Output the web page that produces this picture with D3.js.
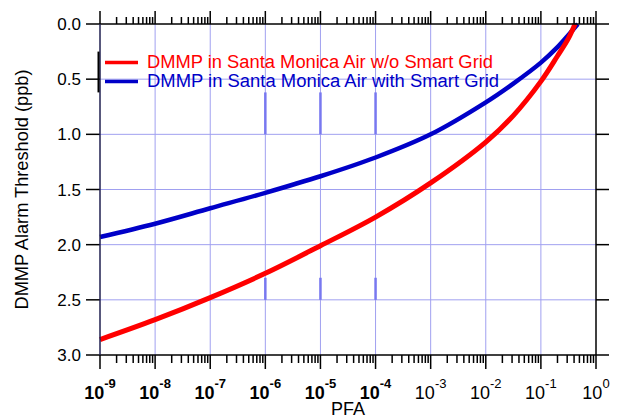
<!DOCTYPE html>
<html>
<head>
<meta charset="utf-8">
<script src="https://cdn.jsdelivr.net/npm/d3@7"></script>
<style>
html,body{margin:0;padding:0;background:#fff;}
svg{display:block;font-family:"Liberation Sans",Arial,sans-serif;}
</style>
</head>
<body>
<svg id="chart" width="618" height="418"></svg>
<script>
// ---- data ----
const seriesNames = ["DMMP in Santa Monica Air w/o Smart Grid", "DMMP in Santa Monica Air with Smart Grid"];
const seriesColors = ["#ff0000", "#0000c8"];
const pfaRed  = [1e-9, 1e-8, 1e-7, 1e-6, 1e-5, 1e-4, 1e-3, 1e-2, 0.0316, 0.1, 0.2, 0.316, 0.417];
const ppbRed  = [2.86, 2.68, 2.48, 2.26, 2.01, 1.75, 1.44, 1.07, 0.83, 0.52, 0.29, 0.13, 0.0];
const pfaBlue = [1e-9, 1e-8, 1e-7, 1e-6, 1e-5, 1e-4, 1e-3, 1e-2, 0.0316, 0.1, 0.2, 0.316, 0.468];
const ppbBlue = [1.93, 1.81, 1.67, 1.53, 1.38, 1.21, 1.00, 0.71, 0.54, 0.35, 0.21, 0.10, 0.0];
const yTicks = [0.0, 0.5, 1.0, 1.5, 2.0, 2.5, 3.0];
const xExponents = [-9, -8, -7, -6, -5, -4, -3, -2, -1, 0];
const xBoldExponents = [-9, -8, -7, -6, -5, -4];
const markDecades = [1e-6, 1e-5, 1e-4];

// ---- layout ----
const L = 100, R = 596, T = 24, B = 355;
const svg = d3.select("#chart");
const x = d3.scaleLog().domain([1e-9, 1]).range([L, R]);
const y = d3.scaleLinear().domain([0, 3]).range([T, B]);

const grid = "#a0a0f0";
// gridlines
svg.append("g").selectAll("line").data(xExponents.slice(1, -1)).join("line")
  .attr("x1", d => x(Math.pow(10, d))).attr("x2", d => x(Math.pow(10, d)))
  .attr("y1", T).attr("y2", B).attr("stroke", grid).attr("stroke-width", 1);
svg.append("g").selectAll("line").data(yTicks.slice(1, -1)).join("line")
  .attr("x1", L).attr("x2", R)
  .attr("y1", d => y(d)).attr("y2", d => y(d)).attr("stroke", grid).attr("stroke-width", 1);

// thicker gridline segments seen in the original
const segs = [];
markDecades.forEach(p => { segs.push([p, 0.62, 1.0]); segs.push([p, 2.30, 2.5]); });
svg.append("g").selectAll("line").data(segs).join("line")
  .attr("x1", d => x(d[0])).attr("x2", d => x(d[0]))
  .attr("y1", d => y(d[1])).attr("y2", d => y(d[2]))
  .attr("stroke", "#7878f0").attr("stroke-width", 2.5);

// curves
const line = d3.line().x(d => x(d[0])).y(d => y(d[1])).curve(d3.curveCatmullRom.alpha(0.5));
const redData = pfaRed.map((p, i) => [p, ppbRed[i]]);
const blueData = pfaBlue.map((p, i) => [p, ppbBlue[i]]);
svg.append("path").datum(blueData).attr("d", line).attr("fill", "none")
  .attr("stroke", seriesColors[1]).attr("stroke-width", 4.5);
svg.append("path").datum(redData).attr("d", line).attr("fill", "none")
  .attr("stroke", seriesColors[0]).attr("stroke-width", 5);

// axes frame
const axisG = svg.append("g").attr("stroke", "#000").attr("stroke-width", 1.5);
axisG.append("line").attr("x1", L).attr("x2", R).attr("y1", T).attr("y2", T);
axisG.append("line").attr("x1", L).attr("x2", R).attr("y1", B).attr("y2", B);
axisG.append("line").attr("x1", R).attr("x2", R).attr("y1", T).attr("y2", B);
svg.append("line").attr("x1", L).attr("x2", L).attr("y1", T).attr("y2", B)
  .attr("stroke", "#202050").attr("stroke-width", 1.5);
svg.append("line").attr("x1", L - 1.5).attr("x2", L - 1.5).attr("y1", y(0.25)).attr("y2", y(0.62))
  .attr("stroke", "#000").attr("stroke-width", 2);

// y ticks left & right
yTicks.forEach(v => {
  axisG.append("line").attr("x1", L - 14).attr("x2", L).attr("y1", y(v)).attr("y2", y(v));
  axisG.append("line").attr("x1", R).attr("x2", R + 13).attr("y1", y(v)).attr("y2", y(v));
});
svg.append("g").selectAll("text").data(yTicks).join("text")
  .attr("x", 81).attr("y", d => y(d)).attr("dy", "0.36em")
  .attr("text-anchor", "end").attr("font-size", 17).attr("fill", "#000")
  .text(d => d.toFixed(1));

// x ticks (major + minor) on bottom and top
xExponents.forEach((e, i) => {
  const base = Math.pow(10, e);
  axisG.append("line").attr("x1", x(base)).attr("x2", x(base)).attr("y1", B).attr("y2", B + 14);
  axisG.append("line").attr("x1", x(base)).attr("x2", x(base)).attr("y1", T).attr("y2", T - 13);
  if (e < 0) {
    for (let m = 2; m <= 9; m++) {
      const v = base * m;
      axisG.append("line").attr("x1", x(v)).attr("x2", x(v)).attr("y1", B).attr("y2", B + 8);
      axisG.append("line").attr("x1", x(v)).attr("x2", x(v)).attr("y1", T).attr("y2", T - 7);
    }
  }
});
const xl = svg.append("g").selectAll("text").data(xExponents).join("text")
  .attr("x", d => x(Math.pow(10, d))).attr("y", 399)
  .attr("text-anchor", "middle").attr("fill", "#000")
  .attr("font-weight", d => xBoldExponents.includes(d) ? "bold" : "normal");
xl.append("tspan").attr("font-size", 18).text("10");
xl.append("tspan").attr("font-size", 13).attr("dy", -11).text(d => d < 0 ? "-" + (-d) : String(d));

// axis titles
svg.append("text").attr("x", (L + R) / 2).attr("y", 415).attr("text-anchor", "middle")
  .attr("font-size", 18).attr("fill", "#000").text("PFA");
svg.append("text").attr("transform", `translate(28,${(T + B) / 2}) rotate(-90)`)
  .attr("text-anchor", "middle").attr("font-size", 18).attr("fill", "#000")
  .attr("textLength", 240).attr("lengthAdjust", "spacingAndGlyphs")
  .text("DMMP Alarm Threshold (ppb)");

// legend
const legY = [62.5, 81.5];
const legLen = [346, 352];
seriesNames.forEach((name, i) => {
  svg.append("line").attr("x1", 105).attr("x2", 138).attr("y1", legY[i]).attr("y2", legY[i])
    .attr("stroke", seriesColors[i]).attr("stroke-width", 3.5);
  svg.append("text").attr("x", 147).attr("y", legY[i] + 5).attr("font-size", 18)
    .attr("fill", seriesColors[i]).attr("textLength", legLen[i]).attr("lengthAdjust", "spacingAndGlyphs")
    .text(name);
});
</script>
</body>
</html>
